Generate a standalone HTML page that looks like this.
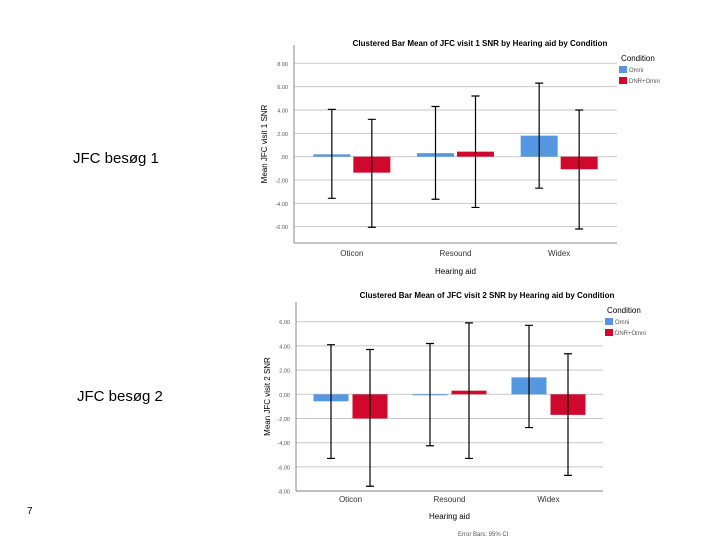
<!DOCTYPE html>
<html><head><meta charset="utf-8"><style>
html,body{margin:0;padding:0;background:#fff;width:720px;height:540px;overflow:hidden}
svg{display:block;font-family:"Liberation Sans",sans-serif}
</style></head><body>
<svg id="s" width="720" height="540">
<text x="73" y="163" font-size="15" fill="#000">JFC besøg 1</text>
<text x="77" y="401" font-size="15" fill="#000">JFC besøg 2</text>
<text x="27" y="514" font-size="10" fill="#000">7</text>
</svg>
<script>
const categories = ["Oticon","Resound","Widex"];
const seriesNames = ["Omni","DNR+Omni"];
// chart 1
const c1Omni = [0.2, 0.3, 1.8];
const c1Dnr = [-1.37, 0.43, -1.08];
const c1OmniHi = [4.05, 4.3, 6.3];
const c1OmniLo = [-3.57, -3.65, -2.7];
const c1DnrHi = [3.2, 5.2, 4.0];
const c1DnrLo = [-6.05, -4.35, -6.2];
const c1Ticks = ["8.00","6.00","4.00","2.00",".00","-2.00","-4.00","-6.00"];
// chart 2
const c2Omni = [-0.58, -0.05, 1.4];
const c2Dnr = [-2.0, 0.3, -1.7];
const c2OmniHi = [4.1, 4.2, 5.7];
const c2OmniLo = [-5.3, -4.25, -2.75];
const c2DnrHi = [3.7, 5.9, 3.35];
const c2DnrLo = [-7.6, -5.3, -6.7];
const c2Ticks = ["6,00","4,00","2,00","0,00","-2,00","-4,00","-6,00","-8,00"];

const NS="http://www.w3.org/2000/svg";
const svg=document.getElementById('s');
function mk(tag,attrs,parent){const e=document.createElementNS(NS,tag);for(const k in attrs)e.setAttribute(k,attrs[k]);(parent||svg).appendChild(e);return e;}

function chart(cfg,omni,dnr,oHi,oLo,dHi,dLo,ticks){
  const g=mk('g',{});
  
  
  const tmax=parseFloat(ticks[0].replace(',','.'));
  const y=v=>cfg.yTop+(tmax-v)*cfg.unit;
  ticks.forEach((t,i)=>{
    const v=parseFloat(t.replace(',','.'));
    const gl=mk('line',{x1:cfg.x0,x2:cfg.x1,y1:y(v),y2:y(v),stroke:'#c8c8c8','stroke-width':1},g);
    
    
    const tl=mk('text',{x:cfg.x0-6,y:y(v)+2.5,'font-size':5.5,'text-anchor':'end',fill:'#555'},g);
    tl.textContent=t;
    
    
  });
  const ax=mk('line',{x1:cfg.x0,x2:cfg.x0,y1:cfg.top,y2:cfg.bottom,stroke:'#888'},g);
  
  
  const bx=mk('line',{x1:cfg.x0,x2:cfg.x1,y1:cfg.bottom,y2:cfg.bottom,stroke:'#888'},g);
  
  
  const inner0=cfg.x0+cfg.pad, inner1=cfg.x1-cfg.pad;
  const band=(inner1-inner0)/categories.length;
  const colors=['#5597e0','#d0082d'];
  categories.forEach((c,i)=>{
    const cx=inner0+band*(i+0.5);
    [[omni,oHi,oLo],[dnr,dHi,dLo]].forEach((s,j)=>{
      const bxl=cx+(j===0?-cfg.gap/2-cfg.bw:cfg.gap/2);
      const v=s[0][i], y0=y(0), yv=y(v);
      const r=mk('rect',{x:bxl,y:Math.min(y0,yv),width:cfg.bw,height:Math.max(1,Math.abs(yv-y0)),fill:colors[j]},g);
      
      
      const ex=bxl+cfg.bw/2;
      const e=mk('path',{d:`M${ex-4},${y(s[1][i])}H${ex+4}M${ex},${y(s[1][i])}V${y(s[2][i])}M${ex-4},${y(s[2][i])}H${ex+4}`,stroke:'#000','stroke-width':1.2,fill:'none'},g);
      
      
    });
    const cl=mk('text',{x:cx,y:cfg.catY,'font-size':8,'text-anchor':'middle',fill:'#333'},g);
    cl.textContent=c;
    
    
  });
  const tt=mk('text',{x:cfg.titleX,y:cfg.titleY,'font-size':8,'text-anchor':'middle',fill:'#000','font-weight':'bold'},g);
  tt.textContent=cfg.title;
  
  
  const xt=mk('text',{x:(cfg.x0+cfg.x1)/2,y:cfg.xTitleY,'font-size':8,'text-anchor':'middle',fill:'#000'},g);
  xt.textContent='Hearing aid';
  
  
  const yc=(cfg.top+cfg.bottom)/2;
  const yt=mk('text',{x:cfg.yTitleX,y:yc,'font-size':8,'text-anchor':'middle',fill:'#000',transform:`rotate(-90 ${cfg.yTitleX} ${yc})`},g);
  yt.textContent=cfg.ytitle;
  
  
  const lh=mk('text',{x:cfg.legX,y:cfg.legY,'font-size':8,fill:'#000'},g);
  lh.textContent='Condition';
  
  
  seriesNames.forEach((n,j)=>{
    const sw=mk('rect',{x:cfg.legX-2,y:cfg.legY+5+j*11,width:8,height:7,fill:colors[j]},g);
    
    
    const lt=mk('text',{x:cfg.legX+8,y:cfg.legY+11+j*11,'font-size':6,fill:'#555'},g);
    lt.textContent=n;
    
    
  });
}
chart({name:'chart-visit-1',x0:294,x1:617,pad:6,top:45,bottom:243,yTop:63.3,unit:11.67,bw:37,gap:3,catY:256,xTitleY:274,titleX:480,titleY:46,yTitleX:267,legX:621,legY:61,title:'Clustered Bar Mean of JFC visit 1 SNR by Hearing aid by Condition',ytitle:'Mean JFC visit 1 SNR'},c1Omni,c1Dnr,c1OmniHi,c1OmniLo,c1DnrHi,c1DnrLo,c1Ticks);
chart({name:'chart-visit-2',x0:296,x1:603,pad:5,top:302,bottom:491,yTop:321.7,unit:12.1,bw:35,gap:4,catY:502,xTitleY:519,titleX:487,titleY:298,yTitleX:270,legX:607,legY:313,title:'Clustered Bar Mean of JFC visit 2 SNR by Hearing aid by Condition',ytitle:'Mean JFC visit 2 SNR'},c2Omni,c2Dnr,c2OmniHi,c2OmniLo,c2DnrHi,c2DnrLo,c2Ticks);
const eb=mk('text',{x:458,y:536,'font-size':6,fill:'#555'});
eb.textContent='Error Bars: 95% CI';


</script>
</body></html>
